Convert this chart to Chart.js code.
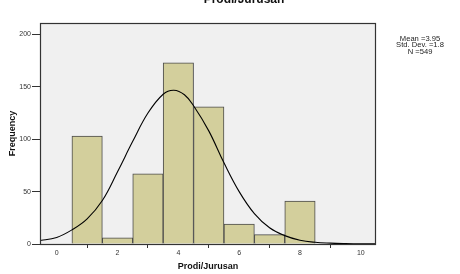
<!DOCTYPE html>
<html>
<head>
<meta charset="utf-8">
<script src="https://cdn.jsdelivr.net/npm/chart.js@4.4.1/dist/chart.umd.min.js"></script>
<style>
html,body{margin:0;padding:0;background:#fff;}
#wrap{width:460px;height:274px;position:relative;overflow:hidden;}
canvas{display:block;}
</style>
</head>
<body>
<div id="wrap"><canvas id="c" width="460" height="274"></canvas></div>
<script>
// Data
const binCenters = [1, 2, 3, 4, 5, 6, 7, 8];
const frequencies = [103, 6, 67, 173, 131, 19, 9, 41];
const curveX = [-1.0, -0.5, 0, 0.5, 1.0, 1.5, 2.0, 2.5, 3.0, 3.5, 3.85, 4.2, 4.5, 5.0, 5.5, 6.0, 6.5, 7.0, 7.5, 8.0, 8.5, 9.0, 9.5, 10.0, 10.5];
const curveY = [2.2, 3.6, 6.3, 13.5, 24.0, 41.5, 69.0, 98.0, 125.0, 143.0, 146.8, 142.5, 132.0, 108.0, 77.5, 50.0, 29.0, 15.5, 8.0, 3.6, 1.6, 0.8, 0.4, 0.2, 0.1];
const xTicks = [0, 2, 4, 6, 8, 10];
const yTicks = [0, 50, 100, 150, 200];
const titleText = "Prodi/Jurusan";
const xTitle = "Prodi/Jurusan";
const yTitle = "Frequency";
const statsLines = ["Mean =3.95", "Std. Dev. =1.8", "N =549"];

const FONT = "'Liberation Sans', Arial, sans-serif";

const decor = {
  id: 'decor',
  beforeDatasetsDraw(chart) {
    const {ctx, chartArea: a} = chart;
    ctx.save();
    ctx.fillStyle = '#f0f0f0';
    ctx.fillRect(a.left, a.top, a.right - a.left, a.bottom - a.top);
    ctx.restore();
  },
  afterDraw(chart) {
    const {ctx, chartArea: a} = chart;
    ctx.save();
    ctx.strokeStyle = '#333';
    ctx.lineWidth = 1.2;
    ctx.strokeRect(a.left + 0.5, a.top + 0.5, a.right - a.left - 1, a.bottom - a.top);
    // title (mostly cut off at top)
    ctx.fillStyle = '#111';
    ctx.textAlign = 'center';
    ctx.textBaseline = 'alphabetic';
    ctx.font = "bold 12px " + FONT;
    ctx.fillText(titleText, 244, 3);
    // axis titles
    ctx.font = "bold 9px " + FONT;
    ctx.textBaseline = 'middle';
    ctx.fillText(xTitle, (a.left + a.right) / 2, 267);
    ctx.save();
    ctx.translate(13, (a.top + a.bottom) / 2);
    ctx.rotate(-Math.PI / 2);
    ctx.fillText(yTitle, 0, 0);
    ctx.restore();
    // stats
    ctx.font = "7.6px " + FONT;
    ctx.fillStyle = '#222';
    statsLines.forEach((s, i) => ctx.fillText(s, 420, 39 + i * 6.3));
    ctx.restore();
  }
};

new Chart(document.getElementById('c'), {
  type: 'bar',
  data: {
    datasets: [
      {
        type: 'line',
        data: curveX.map((x, i) => ({x: x, y: curveY[i]})),
        borderColor: '#000',
        borderWidth: 1.1,
        pointRadius: 0,
        fill: false,
        tension: 0.4,
        order: 0
      },
      {
        type: 'bar',
        data: binCenters.map((x, i) => ({x: x, y: frequencies[i]})),
        backgroundColor: '#d3cf9c',
        borderColor: '#4a4a4a',
        borderWidth: 1,
        barPercentage: 1,
        categoryPercentage: 1,
        order: 1
      }
    ]
  },
  options: {
    responsive: false,
    animation: false,
    events: [],
    layout: {padding: {left: 0, right: 84, top: 23, bottom: 0}},
    plugins: {legend: {display: false}, tooltip: {enabled: false}, title: {display: false}},
    scales: {
      x: {
        type: 'linear',
        min: -0.55,
        max: 10.5,
        offset: false,
        afterBuildTicks(s) { s.ticks = xTicks.map(v => ({value: v})); },
        afterFit(s) { s.height = 30; },
        ticks: {font: {size: 7, family: FONT}, color: '#333', padding: 1, maxRotation: 0, includeBounds: false},
        grid: {display: true, drawOnChartArea: false, drawTicks: true, tickLength: 4, color: '#333', tickWidth: 1},
        border: {display: false}
      },
      y: {
        type: 'linear',
        min: 0,
        max: 211,
        afterBuildTicks(s) { s.ticks = yTicks.map(v => ({value: v})); },
        afterFit(s) { s.width = 40; },
        ticks: {font: {size: 7, family: FONT}, color: '#333', padding: 1, includeBounds: false},
        grid: {display: true, drawOnChartArea: false, drawTicks: true, tickLength: 8, color: '#333', tickWidth: 1},
        border: {display: false}
      }
    }
  },
  plugins: [decor]
});
</script>
</body>
</html>
